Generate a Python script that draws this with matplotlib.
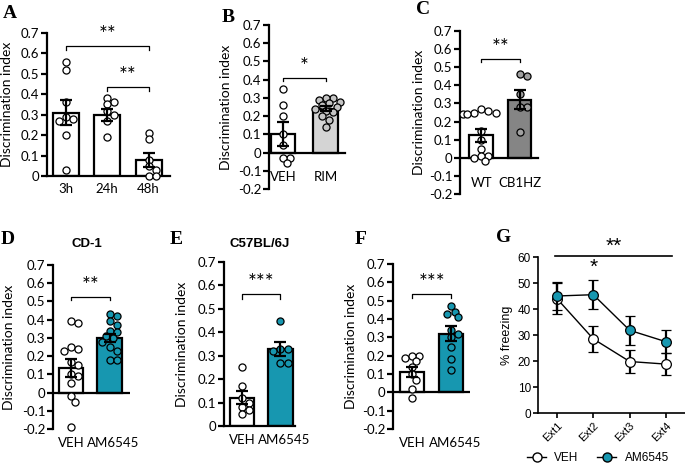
import numpy as np
import matplotlib
matplotlib.use("Agg")
import matplotlib.pyplot as plt
import matplotlib.transforms as mtransforms
from matplotlib.lines import Line2D
from matplotlib.ticker import FuncFormatter, MultipleLocator

W, H = 685, 471
TEAL = "#1797b0"

# ---- data ----
A_labels = ["3h", "24h", "48h"]
A_means = [0.31, 0.30, 0.08]
A_sems = [0.062, 0.030, 0.035]
A_points = [[0.56, 0.52, 0.36, 0.29, 0.28, 0.27, 0.20, 0.03],
            [0.38, 0.36, 0.35, 0.32, 0.30, 0.27, 0.19],
            [0.21, 0.18, 0.08, 0.05, 0.03, 0.00, 0.00]]

B_labels = ["VEH", "RIM"]
B_means = [0.10, 0.24]
B_sems = [0.065, 0.014]
B_points = [[0.35, 0.26, 0.20, 0.10, 0.04, -0.03, -0.03, -0.06],
            [0.30, 0.30, 0.29, 0.28, 0.27, 0.26, 0.25, 0.24, 0.23, 0.22, 0.20, 0.18, 0.14]]

C_labels = ["WT", "CB1HZ"]
C_means = [0.125, 0.32]
C_sems = [0.036, 0.052]
C_points = [[0.27, 0.25, 0.25, 0.26, 0.24, 0.24, 0.15, 0.10, 0.05, 0.01, 0.01, 0.00, -0.02],
            [0.46, 0.45, 0.35, 0.28, 0.28, 0.14]]

D_labels = ["VEH", "AM6545"]
D_means = [0.135, 0.30]
D_sems = [0.048, 0.022]
D_points = [[0.39, 0.38, 0.25, 0.24, 0.23, 0.17, 0.15, 0.10, 0.09, 0.05, -0.02, -0.05, -0.19],
            [0.43, 0.42, 0.39, 0.37, 0.34, 0.33, 0.31, 0.30, 0.28, 0.25, 0.23, 0.18, 0.18]]

E_labels = ["VEH", "AM6545"]
E_means = [0.12, 0.33]
E_sems = [0.028, 0.030]
E_points = [[0.25, 0.17, 0.12, 0.10, 0.08, 0.07, 0.05],
            [0.45, 0.33, 0.33, 0.32, 0.27, 0.27]]

F_labels = ["VEH", "AM6545"]
F_means = [0.11, 0.32]
F_sems = [0.028, 0.040]
F_points = [[0.20, 0.20, 0.19, 0.17, 0.14, 0.10, 0.07, 0.02, -0.03],
            [0.47, 0.44, 0.43, 0.41, 0.34, 0.32, 0.30, 0.25, 0.18, 0.12]]

G_sessions = ["Ext1", "Ext2", "Ext3", "Ext4"]
G_veh = [44.0, 28.5, 19.8, 18.8]
G_veh_err = [6.0, 4.9, 4.6, 4.3]
G_am = [45.0, 45.5, 31.8, 27.4]
G_am_err = [5.2, 5.5, 5.5, 4.4]

TICK_FONT = "Lato"
ARIAL = "Liberation Sans"

fig = plt.figure(figsize=(W / 100, H / 100), dpi=100)


def px_axes(left, top, right, bottom):
    return fig.add_axes([left / W, 1 - bottom / H, (right - left) / W, (bottom - top) / H])


def swarm(ax, x0, vals, diam=6.0, step=3.6):
    # simple beeswarm: put each point as near the centre as it can go
    tr = ax.transData
    inv = tr.inverted()
    placed = []
    xs = np.zeros(len(vals))
    order = np.argsort(vals)[::-1]
    for i in order:
        px, py = tr.transform((x0, vals[i]))
        for k in [0, 1, -1, 2, -2, 3, -3, 4, -4, 5, -5]:
            cx = px + k * step
            if all((cx - qx) ** 2 + (py - qy) ** 2 >= diam ** 2 for qx, qy in placed):
                break
        placed.append((cx, py))
        xs[i] = inv.transform((cx, py))[0]
    return xs


def fmt(v, pos):
    if abs(v) < 1e-9:
        return "0"
    return "%.1f" % v


def bar_panel(ax, labels, means, sems, points, bar_colors, dot_colors, xlim, width,
              ylim, zero_mode, ylab_px, label_pad):
    x = np.arange(len(labels))
    ax.set_xlim(*xlim)
    ax.set_ylim(*ylim)
    ax.bar(x, means, width=width, color=bar_colors, edgecolor="black", linewidth=1.6, zorder=2)
    ax.errorbar(x, means, yerr=sems, fmt="none", ecolor="black", elinewidth=1.6,
                capsize=4.5, capthick=1.6, zorder=4)
    for i, vals in enumerate(points):
        xs = swarm(ax, x[i], vals)
        ax.scatter(xs, vals, s=26, facecolor=dot_colors[i], edgecolor="black",
                   linewidth=0.9, zorder=3, clip_on=False)
    for s in ["top", "right"]:
        ax.spines[s].set_visible(False)
    ax.spines["left"].set_linewidth(1.6)
    ax.spines["left"].set_bounds(ylim[0], ylim[1])
    if zero_mode == "spine":
        ax.spines["bottom"].set_position(("data", 0))
        ax.spines["bottom"].set_linewidth(1.6)
    else:
        ax.spines["bottom"].set_visible(False)
        ax.axhline(0, color="black", linewidth=1.6, zorder=2)
    ax.set_xticks(x)
    ax.set_xticklabels(labels, fontfamily=TICK_FONT, fontsize=9.5)
    ax.tick_params(axis="x", length=0, pad=label_pad)
    ax.yaxis.set_major_locator(MultipleLocator(0.1))
    ax.yaxis.set_major_formatter(FuncFormatter(fmt))
    ax.tick_params(axis="y", length=4, width=1.6, labelsize=9.5, pad=1.5)
    for t in ax.get_yticklabels():
        t.set_fontfamily(TICK_FONT)
    ax.set_ylabel("Discrimination index", fontfamily=TICK_FONT, fontsize=10)
    wpx = ax.get_position().width * W
    ax.yaxis.set_label_coords(-ylab_px / wpx, 0.5)


def bracket(ax, x0, x1, y, stars, tick=0.02):
    ax.plot([x0, x0, x1, x1], [y - tick, y, y, y - tick], color="black", linewidth=0.9,
            clip_on=False)
    ax.text((x0 + x1) / 2, y + 0.005, stars, ha="center", va="bottom", fontsize=15,
            fontfamily=TICK_FONT, clip_on=False)


# ---- A ----
axA = px_axes(47, 33, 170, 176)
bar_panel(axA, A_labels, A_means, A_sems, A_points, ["white"] * 3, ["white"] * 3,
          (-0.46, 2.52), 0.63, (0, 0.7), "spine", 34, 5)
bracket(axA, 0, 2, 0.636, "**")
bracket(axA, 1, 2, 0.436, "**")

# ---- B ----
axB = px_axes(269, 25, 345, 189)
bar_panel(axB, B_labels, B_means, B_sems, B_points, ["white", "#d4d4d4"],
          ["white", "#c4c4c4"], (-0.33, 1.45), 0.58, (-0.2, 0.7), "spine", 37, 13)
bracket(axB, 0, 1, 0.41, "*")

# ---- C ----
axC = px_axes(460, 31, 538, 194)
bar_panel(axC, C_labels, C_means, C_sems, C_points, ["white", "#858585"],
          ["white", "#a0a0a0"], (-0.55, 1.48), 0.62, (-0.2, 0.7), "spine", 35, 14)
bracket(axC, 0, 1, 0.547, "**")

# ---- D ----
axD = px_axes(53, 265, 130, 429)
bar_panel(axD, D_labels, D_means, D_sems, D_points, ["white", TEAL], ["white", TEAL],
          (-0.47, 1.53), 0.64, (-0.2, 0.7), "line", 38, 6)
bracket(axD, 0, 1, 0.527, "**")
axD.set_title("CD-1", fontfamily=ARIAL, fontweight="bold", fontsize=9.5, x=0.44, y=1.06)

# ---- E ----
axE = px_axes(224, 262, 295, 426)
bar_panel(axE, E_labels, E_means, E_sems, E_points, ["white", TEAL], ["white", TEAL],
          (-0.47, 1.38), 0.64, (0, 0.7), "spine", 36, 6)
bracket(axE, 0, 1, 0.564, "***")
axE.set_title("C57BL/6J", fontfamily=ARIAL, fontweight="bold", fontsize=9.5, x=0.5, y=1.04)

# ---- F ----
axF = px_axes(393, 264, 470, 429)
bar_panel(axF, F_labels, F_means, F_sems, F_points, ["white", TEAL], ["white", TEAL],
          (-0.49, 1.49), 0.62, (-0.2, 0.7), "line", 36, 6)
bracket(axF, 0, 1, 0.535, "***")

# the long "AM6545" label sits a little right of its bar in the original
shift = mtransforms.ScaledTranslation(4 / 100, 0, fig.dpi_scale_trans)
for ax in [axD, axE, axF]:
    lab = ax.get_xticklabels()[1]
    lab.set_transform(lab.get_transform() + shift)

# ---- G ----
axG = px_axes(538, 257, 685, 413)
xg = np.arange(len(G_sessions))
axG.errorbar(xg, G_veh, yerr=G_veh_err, color="black", linewidth=1.0, elinewidth=1.6,
             capsize=3.5, capthick=1.6, marker="o", markersize=7, markerfacecolor="white",
             markeredgecolor="black", markeredgewidth=0.9, zorder=3, clip_on=False)
axG.errorbar(xg, G_am, yerr=G_am_err, color="black", linewidth=1.0, elinewidth=1.6,
             capsize=3.5, capthick=1.6, marker="o", markersize=7, markerfacecolor=TEAL,
             markeredgecolor="black", markeredgewidth=0.9, zorder=4, clip_on=False)
axG.set_xlim(-0.52, 3.52)
axG.set_ylim(0, 60)
axG.yaxis.set_major_locator(MultipleLocator(10))
axG.set_xticks(xg)
axG.set_xticklabels(G_sessions, rotation=45, ha="right", rotation_mode="anchor",
                    fontfamily=ARIAL, fontsize=8)
for t in axG.get_yticklabels():
    t.set_fontfamily(ARIAL)
axG.tick_params(axis="y", length=3.5, width=1.2, labelsize=8.5, pad=1.5)
axG.tick_params(axis="x", length=3.5, width=1.2, pad=2)
for s in ["top", "right"]:
    axG.spines[s].set_visible(False)
axG.spines["left"].set_linewidth(1.2)
axG.spines["bottom"].set_linewidth(1.2)
axG.set_ylabel("% freezing", fontfamily=ARIAL, fontsize=9)
axG.yaxis.set_label_coords(-25 / 147, 0.5)
axG.plot([-0.05, 3.15], [60.4, 60.4], color="black", linewidth=1.2, clip_on=False)
axG.text(1.55, 60.6, "**", ha="center", va="bottom", fontsize=15, fontfamily=ARIAL,
         clip_on=False)
axG.text(1, 52.5, "*", ha="center", va="bottom", fontsize=15, fontfamily=ARIAL)

handles = [Line2D([], [], color="black", linewidth=1.0, marker="o", markersize=6.5,
                  markerfacecolor="white", markeredgecolor="black"),
           Line2D([], [], color="black", linewidth=1.0, marker="o", markersize=6.5,
                  markerfacecolor=TEAL, markeredgecolor="black")]
fig.legend(handles, ["VEH", "AM6545"], ncol=2, frameon=False, loc="center",
           bbox_to_anchor=(598 / W, 1 - 458 / H), prop={"family": ARIAL, "size": 8.5},
           handlelength=1.6, handletextpad=0.7, columnspacing=1.6)

# ---- panel letters ----
letters = [("A", 10, 14), ("B", 228, 17), ("C", 423, 9), ("D", 8, 239),
           ("E", 176, 239), ("F", 361, 239), ("G", 504, 237)]
for s, lx, ly in letters:
    fig.text(lx / W, 1 - ly / H, s, ha="center", va="center", fontsize=14,
             fontweight="bold", fontfamily="Liberation Serif")

fig.savefig("out.png", dpi=100)
